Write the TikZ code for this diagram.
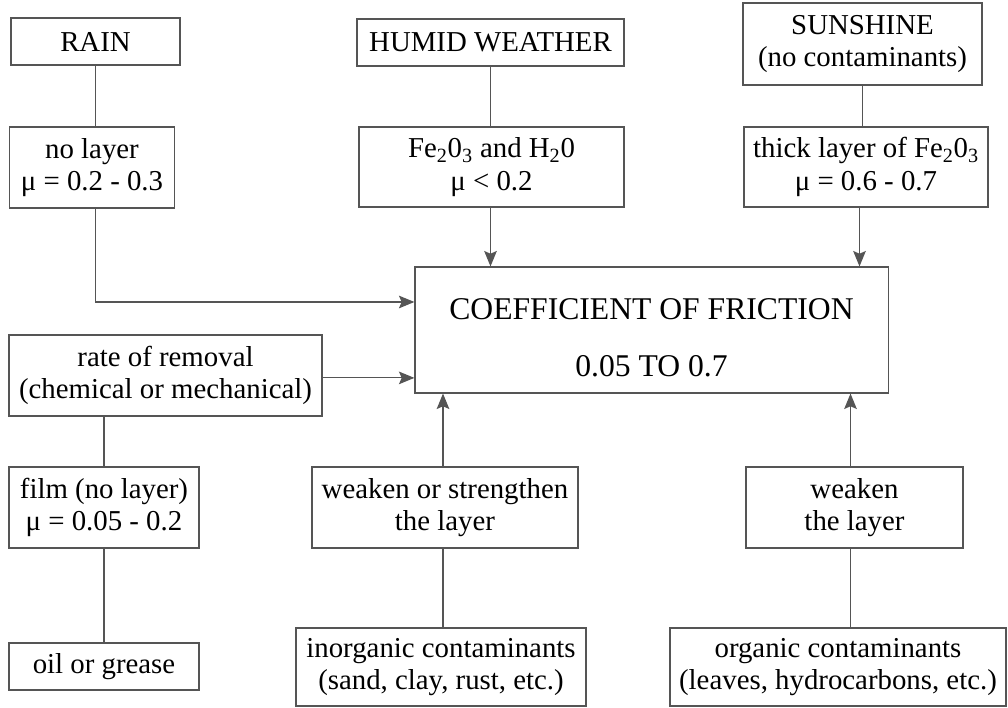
\documentclass[tikz,border=0pt]{standalone}
\usepackage{fontspec}
\setmainfont{Liberation Serif}
\usetikzlibrary{arrows.meta}
\definecolor{linegray}{HTML}{555555}

\begin{document}
\begin{tikzpicture}[x=0.025cm, y=-0.025cm,
    box/.style={draw=linegray, line width=0.8pt, align=center, inner sep=0pt,
        font=\fontsize{20.5}{23}\selectfont},
    conn/.style={draw=linegray, line width=0.8pt},
    arr/.style={conn, -{Stealth[length=11pt, width=9pt, inset=2pt]}}]
    \useasboundingbox (0, 0) rectangle (1008, 708);

    % Weather sources
    \node[box, minimum width=4.225cm, minimum height=1.175cm] (rain) at (95.5, 41.5) {RAIN};
    \node[box, minimum width=6.675cm, minimum height=1.175cm] (humid) at (490.5, 42.5) {HUMID WEATHER};
    \node[box, minimum width=5.975cm, minimum height=2.05cm] (sun) at (862.5, 44) {SUNSHINE\\(no contaminants)};

    % Layers
    \node[box, minimum width=4.125cm, minimum height=2.025cm] (nolayer) at (92, 167.5) {no layer\\μ = 0.2 - 0.3};
    \node[box, minimum width=6.625cm, minimum height=2cm] (fe) at (491.5, 167) {Fe\textsubscript{2}0\textsubscript{3} and H\textsubscript{2}0\\μ < 0.2};
    \node[box, minimum width=6.1cm, minimum height=2cm] (thick) at (866, 167) {thick layer of Fe\textsubscript{2}0\textsubscript{3}\\μ = 0.6 - 0.7};

    % Result
    \node[box, minimum width=11.825cm, minimum height=3.15cm,
        font=\fontsize{22.5}{40}\selectfont] (cof) at (651.5, 330) {\rule{0pt}{26pt}COEFFICIENT OF FRICTION\\0.05 TO 0.7};

    % Removal and contaminants
    \node[box, minimum width=7.825cm, minimum height=2.025cm] (rate) at (165.5, 375.5) {rate of removal\\(chemical or mechanical)};
    \node[box, minimum width=4.75cm, minimum height=2.025cm] (film) at (104, 507.5) {film (no layer)\\μ = 0.05 - 0.2};
    \node[box, minimum width=4.75cm, minimum height=1.175cm] (oil) at (104, 666.5) {oil or grease};
    \node[box, minimum width=6.65cm, minimum height=2.025cm] (strong) at (445, 507.5) {weaken or strengthen\\the layer};
    \node[box, minimum width=7.25cm, minimum height=1.95cm] (inorg) at (441, 667) {inorganic contaminants\\(sand, clay, rust, etc.)};
    \node[box, minimum width=5.425cm, minimum height=2.025cm] (weak) at (854.5, 507.5) {weaken\\the layer};
    \node[box, minimum width=8.4cm, minimum height=1.95cm] (org) at (838, 667) {organic contaminants\\(leaves, hydrocarbons, etc.)};

    % Top connectors
    \draw[conn] (rain.south) -- (rain.south |- nolayer.north);
    \draw[conn] (humid.south) -- (humid.south |- fe.north);
    \draw[conn] (sun.south) -- (sun.south |- thick.north);
    \draw[arr] (rain.south |- nolayer.south) |- ([yshift=0.7cm]cof.west);
    \draw[arr] (humid.south |- fe.south) -- (humid.south |- cof.north);
    \draw[arr] ([xshift=-0.075cm]sun.south |- thick.south) -- ([xshift=-0.075cm]sun.south |- cof.north);

    % Bottom connectors
    \draw[arr] ([yshift=-0.06cm]rate.east) -- ([yshift=-0.06cm]rate.east -| cof.west);
    \draw[conn] (film.north |- rate.south) -- (film.north);
    \draw[conn] (film.south) -- (oil.north);
    \draw[arr] ([xshift=-0.05cm]strong.north) -- ([xshift=-0.05cm]strong.north |- cof.south);
    \draw[conn] ([xshift=-0.05cm]strong.south) -- ([xshift=-0.05cm]strong.south |- inorg.north);
    \draw[arr] ([xshift=-0.1cm]weak.north) -- ([xshift=-0.1cm]weak.north |- cof.south);
    \draw[conn] ([xshift=-0.1cm]weak.south) -- ([xshift=-0.1cm]weak.south |- org.north);
\end{tikzpicture}
\end{document}
